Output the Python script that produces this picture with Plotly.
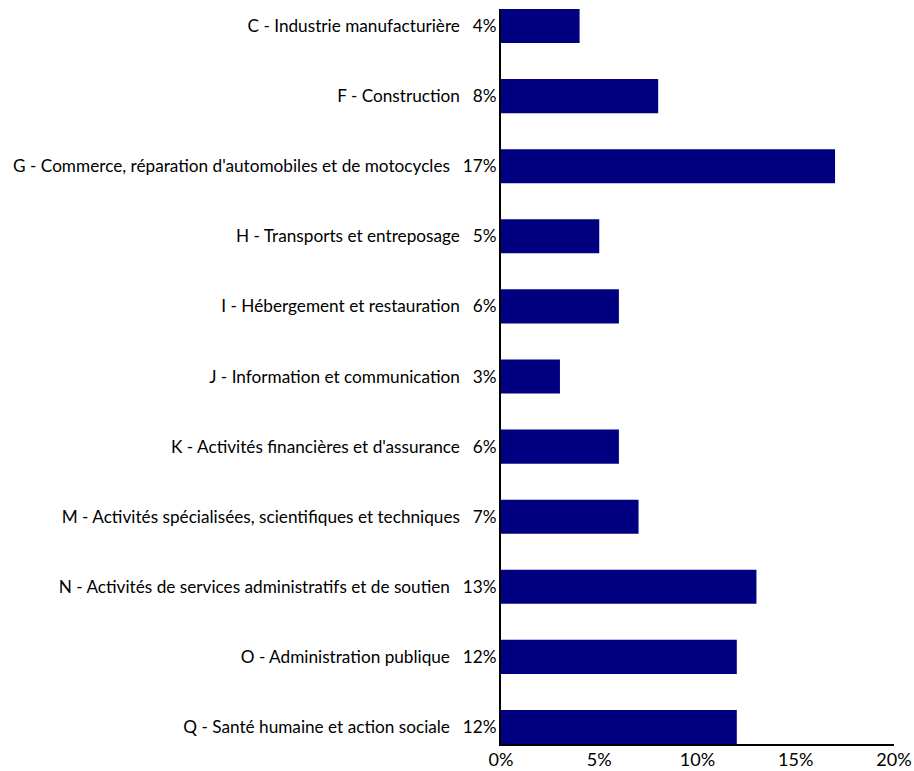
import plotly.graph_objects as go

categories = [
    "C - Industrie manufacturière",
    "F - Construction",
    "G - Commerce, réparation d'automobiles et de motocycles",
    "H - Transports et entreposage",
    "I - Hébergement et restauration",
    "J - Information et communication",
    "K - Activités financières et d'assurance",
    "M - Activités spécialisées, scientifiques et techniques",
    "N - Activités de services administratifs et de soutien",
    "O - Administration publique",
    "Q - Santé humaine et action sociale",
]
values = [4, 8, 17, 5, 6, 3, 6, 7, 13, 12, 12]
x_tickvals = [0, 5, 10, 15, 20]
x_ticktext = ["0%", "5%", "10%", "15%", "20%"]

labels = [f"{c}\u2002\u2009\u2009{v}%" for c, v in zip(categories, values)]

FONT = "Lato, 'Open Sans', sans-serif"

fig = go.Figure(
    go.Bar(
        x=values,
        y=categories,
        orientation="h",
        marker=dict(color="#000080", line=dict(width=0)),
        width=0.486,
    )
)

n = len(categories)
fig.update_layout(
    width=914,
    height=771,
    margin=dict(l=501, r=20, t=9, b=27, autoexpand=False),
    plot_bgcolor="white",
    paper_bgcolor="white",
    showlegend=False,
    font=dict(family=FONT, color="black"),
)
fig.update_xaxes(
    range=[0, 20],
    tickvals=x_tickvals,
    ticktext=x_ticktext,
    showgrid=False,
    zeroline=False,
    showline=True,
    linecolor="black",
    linewidth=2,
    ticks="",
    automargin=False,
    ticklabelstandoff=-2,
    tickfont=dict(size=18, family=FONT),
)
fig.update_yaxes(
    type="category",
    categoryorder="array",
    categoryarray=categories,
    tickvals=categories,
    ticktext=labels,
    range=[n - 1 + 0.243, -0.243],
    showgrid=False,
    zeroline=False,
    showline=True,
    linecolor="black",
    linewidth=2,
    ticks="",
    automargin=False,
    ticklabelstandoff=-1,
    tickfont=dict(size=17.2, family=FONT),
)

fig.write_html(
    "out.html",
    config={"displayModeBar": False},
    post_script="document.body.style.margin='0';document.body.style.overflow='hidden';",
)
